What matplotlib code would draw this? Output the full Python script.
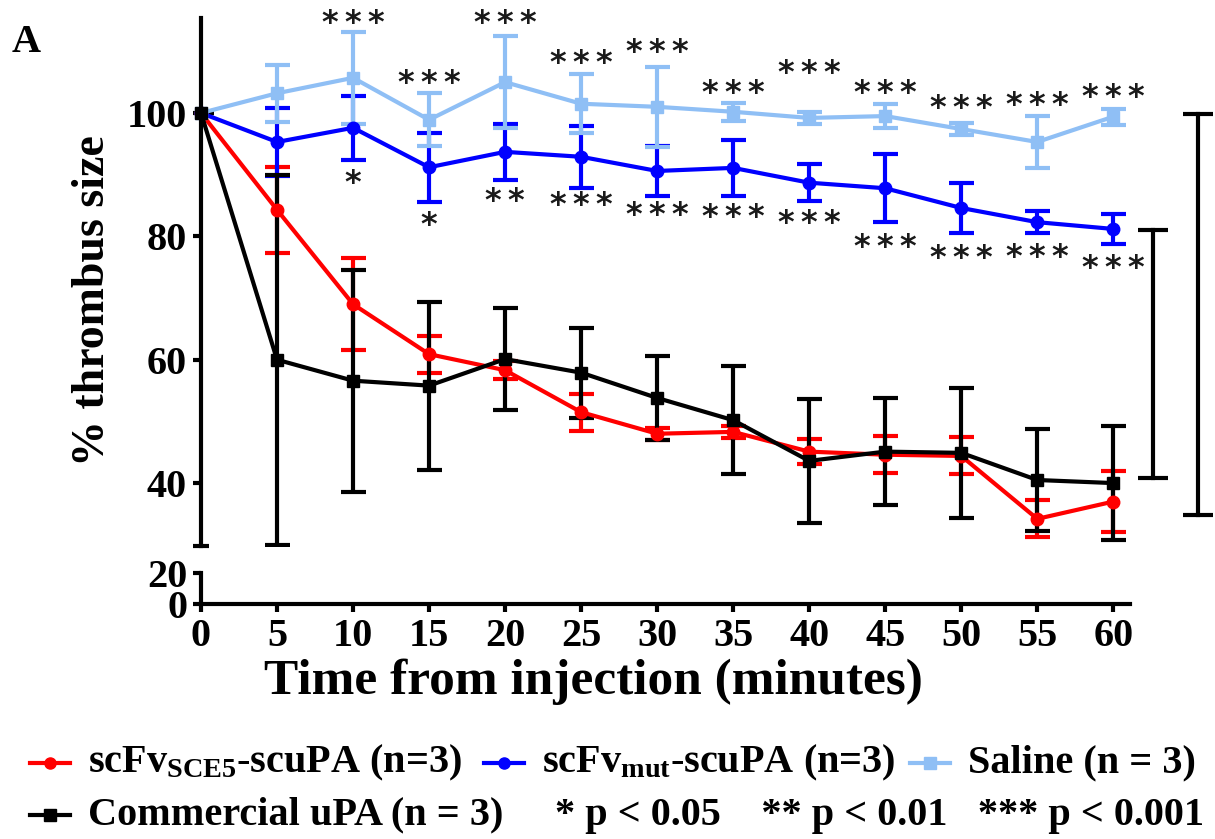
import matplotlib
matplotlib.use("Agg")
import matplotlib.pyplot as plt
from matplotlib.lines import Line2D

plt.rcParams.update({"font.family": "Liberation Serif", "font.weight": "bold",
                     "mathtext.fontset": "custom",
                     "mathtext.rm": "Liberation Serif:bold",
                     "mathtext.it": "Liberation Serif:bold",
                     "mathtext.bf": "Liberation Serif:bold",
                     "mathtext.default": "rm"})

# data
time        =   [0, 5, 10, 15, 20, 25, 30, 35, 40, 45, 50, 55, 60]
sce5        =   [100, 84.3, 69.0, 60.9, 58.3, 51.5, 48.0, 48.3, 45.1, 44.6, 44.4, 34.2, 37.0]
sce5_err    =   [0, 7.0, 7.5, 3.0, 1.5, 3.0, 1.0, 1.0, 2.0, 3.0, 3.0, 3.0, 5.0]
mut         =   [100, 95.3, 97.6, 91.2, 93.7, 92.9, 90.6, 91.1, 88.7, 87.8, 84.6, 82.3, 81.2]
mut_err     =   [0, 5.5, 5.2, 5.6, 4.5, 5.0, 4.0, 4.5, 3.0, 5.5, 4.0, 1.8, 2.5]
saline      =   [100, 103.2, 105.7, 98.9, 105.0, 101.5, 101.0, 100.2, 99.2, 99.5, 97.4, 95.3, 99.4]
saline_err  =   [0, 4.6, 7.5, 4.3, 7.5, 4.8, 6.5, 1.5, 1.0, 2.0, 1.0, 4.2, 1.3]
upa         =   [100, 60.0, 56.6, 55.8, 60.1, 57.9, 53.8, 50.2, 43.6, 45.1, 44.9, 40.5, 40.0]
upa_err     =   [0, 30.0, 18.0, 13.6, 8.3, 7.3, 6.8, 8.8, 10.0, 8.7, 10.5, 8.3, 9.2]

# significance marks (saline above, scFv_mut below)
star_t      =   [10, 15, 20, 25, 30, 35, 40, 45, 50, 55, 60]
top_stars   =   ["***"] * 11
top_y       =   [115.4, 105.7, 115.4, 108.9, 110.7, 104.1, 107.3, 104.1, 101.6, 102.1, 103.4]
low_stars   =   ["*", "*", "**", "***", "***", "***", "***", "***", "***", "***", "***"]
low_y       =   [89.5, 82.7, 86.5, 85.9, 84.3, 84.0, 83.0, 79.1, 77.3, 77.5, 75.7]

# comparison brackets at the right (x, top, bottom)
brackets    =   [(62.6, 81.0, 40.8), (65.6, 99.8, 34.8)]

LB  =   "#8fbff5"
W   =   1215.0
H   =   839.0

fig =   plt.figure(figsize=(12.15, 8.39), dpi=100)
x0, x1  =   201/W, 1130/W
ax  =   fig.add_axes([x0, 1-546/H, x1-x0, (546-18)/H])
axl =   fig.add_axes([x0, 1-604/H, x1-x0, (604-573)/H])

for a in (ax, axl):
    a.set_xlim(0, 61.1)
    for s in a.spines.values():
        s.set_linewidth(3)
    a.spines["top"].set_visible(False)
    a.spines["right"].set_visible(False)
    a.tick_params(direction="out", length=6, width=3, labelsize=29, pad=4)
    a.patch.set_alpha(0)

ax.spines["bottom"].set_visible(False)
ax.set_ylim(29.8, 115.4)
ax.set_yticks([40, 60, 80, 100])
ax.tick_params(bottom=False, labelbottom=False)
ax.plot([0], [29.8], marker="_", ms=12, mew=3, color="k", clip_on=False)

axl.set_ylim(0, 20)
axl.set_yticks([0, 20])
axl.set_xticks(time)

series  =   [(sce5, sce5_err, "red", "o"), (mut, mut_err, "blue", "o"),
             (saline, saline_err, LB, "s"), (upa, upa_err, "black", "s")]
for vals, err, c, m in series:
    line, caps, bars = ax.errorbar(time, vals, yerr=err, color=c, marker=m, ms=9,
                                   lw=3, elinewidth=3, capsize=9, capthick=3)
    line.set_clip_on(False)

for lst, ys in ((top_stars, top_y), (low_stars, low_y)):
    for t, s, y in zip(star_t, lst, ys):
        ax.annotate("\u2009".join(s), (t, y), xytext=(0, -4), textcoords="offset points",
                    ha="center", va="center", fontsize=23, family="DejaVu Sans",
                    fontweight="bold", color="#1a1a1a")

for bx, hi, lo in brackets:
    ax.plot([bx, bx], [lo, hi], color="k", lw=3, clip_on=False)
    ax.plot([bx, bx], [lo, hi], ls="none", marker="_", ms=21, mew=3, color="k", clip_on=False)

fig.text(93/W, 1-301/H, "% thrombus size", rotation=90, ha="center", va="center", fontsize=33)
fig.text(593/W, 1-682/H, "Time from injection (minutes)", ha="center", va="center", fontsize=37)
fig.text(12/W, 1-52/H, "A", fontsize=29)

# legend, drawn by hand
entries =   [("red", "o", r"scFv$_{\rm SCE5}$-scuPA (n=3)", 30, 763),
             ("blue", "o", r"scFv$_{\rm mut}$-scuPA (n=3)", 484, 763),
             (LB, "s", "Saline (n = 3)", 910, 763),
             ("black", "s", "Commercial uPA (n = 3)", 30, 815)]
for c, m, lab, px, py in entries:
    yy  =   1-py/H
    fig.add_artist(Line2D([px/W, (px+40)/W], [yy, yy], color=c, lw=3, transform=fig.transFigure))
    fig.add_artist(Line2D([(px+20)/W], [yy], color=c, marker=m, ms=8, transform=fig.transFigure))
    fig.text((px+58)/W, yy, lab, va="center", fontsize=29)
fig.text(555/W, 1-815/H, "* p < 0.05    ** p < 0.01   *** p < 0.001", va="center", fontsize=29)

plt.savefig("out.png", dpi=100)
